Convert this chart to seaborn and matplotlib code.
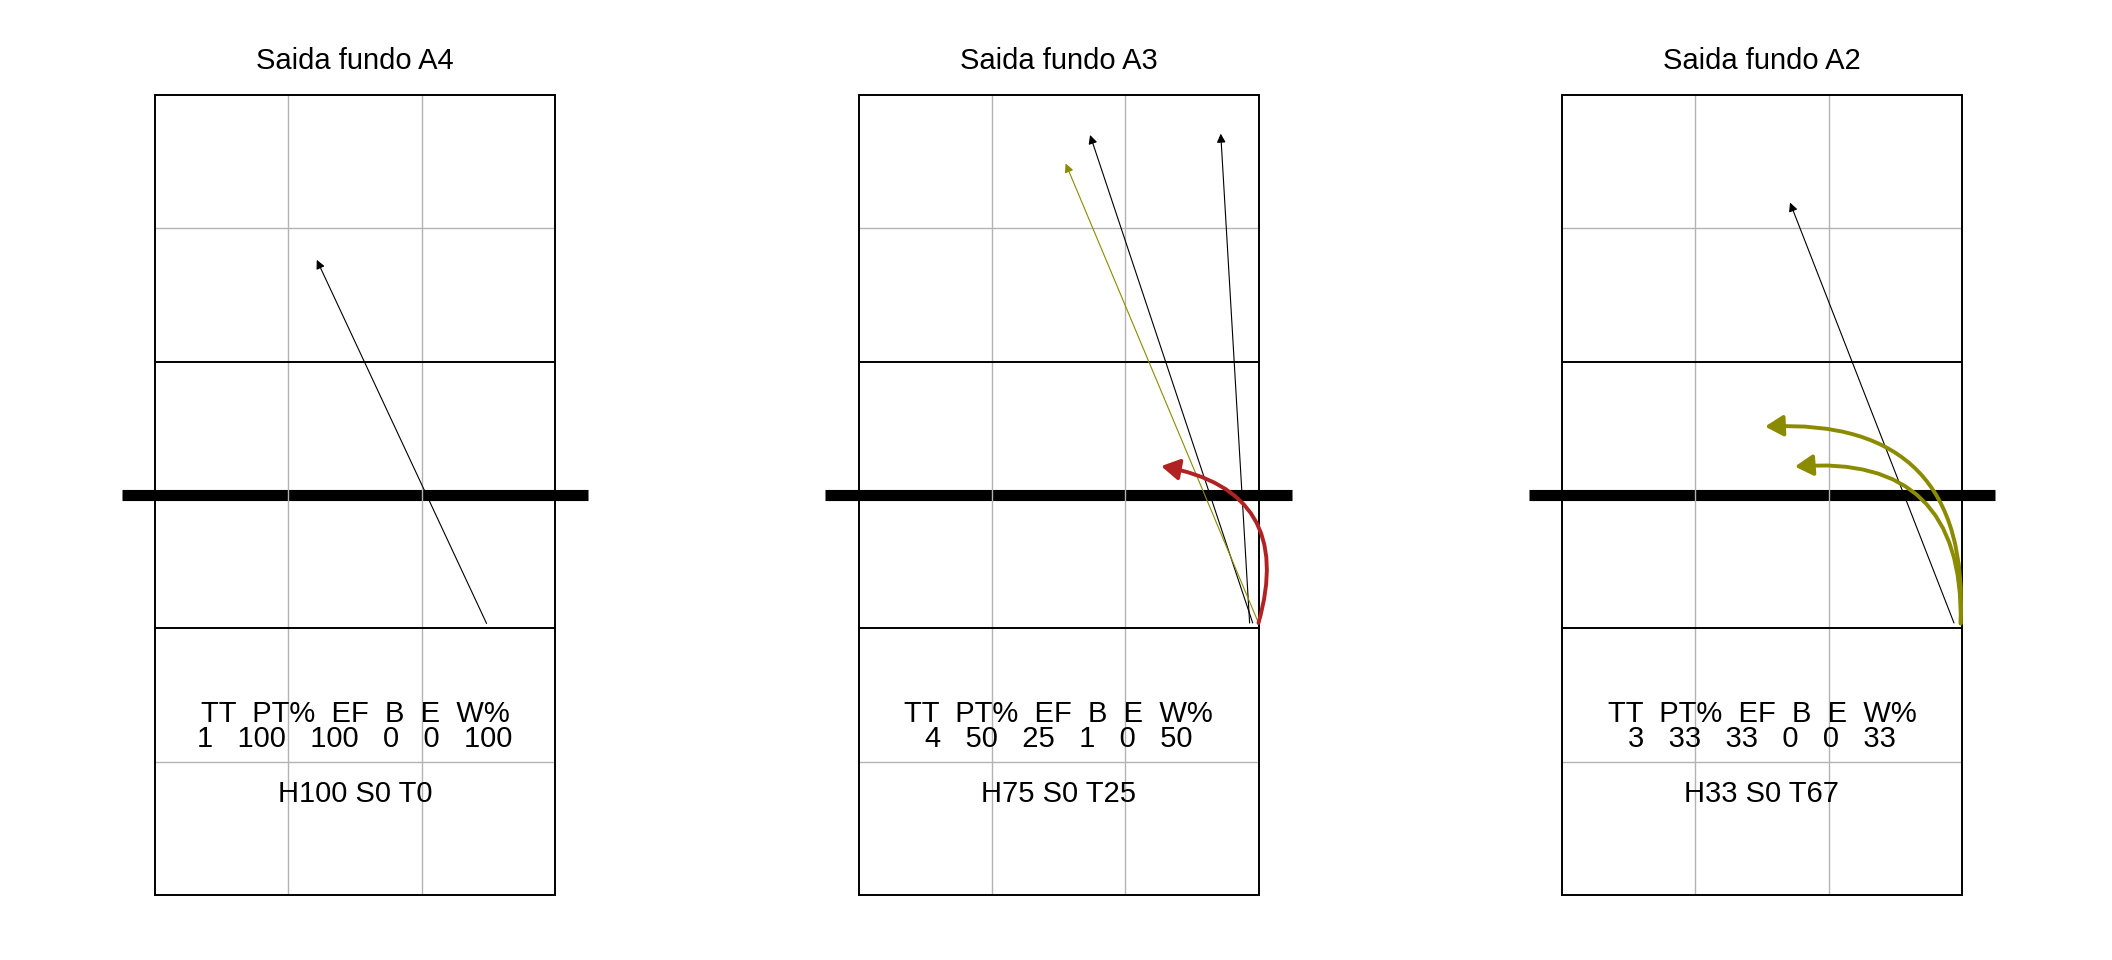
import matplotlib
matplotlib.use("Agg")
import matplotlib.pyplot as plt
from matplotlib.patches import FancyArrowPatch
import seaborn as sns

# ---------------- data ----------------
titles = ["Saida fundo A4", "Saida fundo A3", "Saida fundo A2"]
TT = [1, 4, 3]
PT = [100, 50, 33]
EF = [100, 25, 33]
B = [0, 1, 0]
E = [0, 0, 0]
W = [100, 50, 33]
H = [100, 75, 33]
S = [0, 0, 0]
T = [0, 25, 67]

# straight attack arrows (court metres: x 0..9, y 0..18, net at 9)
arrow_panel = [0, 1, 1, 1, 2]
arrow_x0 = [7.46, 8.87, 8.80, 9.00, 8.82]
arrow_y0 = [6.11, 6.12, 6.12, 6.12, 6.12]
arrow_x1 = [3.64, 5.21, 8.15, 4.66, 5.13]
arrow_y1 = [14.29, 17.10, 17.13, 16.46, 15.58]
arrow_kind = ["black", "black", "black", "olive", "black"]

# curved arrows
curve_panel = [1, 2, 2]
curve_x0 = [9.00, 8.97, 8.97]
curve_y0 = [6.12, 6.11, 6.11]
curve_x1 = [6.81, 4.57, 5.24]
curve_y1 = [9.65, 10.54, 9.64]
curve_kind = ["red", "olive", "olive"]

# ---------------- style ----------------
sns.set_theme(style="white")
plt.rcParams["font.family"] = ["Liberation Sans", "DejaVu Sans"]
plt.rcParams["text.color"] = "black"
colors = {"black": "black", "olive": "#8B8B00", "red": "#B22222"}
grey = "#B3B3B3"
FS = 21

W_PX, H_PX = 2112, 960
fig = plt.figure(figsize=(W_PX / 100, H_PX / 100), dpi=100)
fig.patch.set_facecolor("white")

ppm = 400 / 9.0          # pixels per metre
court_left = [155, 858.5, 1562]
court_bottom_px = 895     # from top
xlim = (-1.5, 10.5)
ylim = (-0.5, 18.5)

axes = []
for i in range(3):
    left_px = court_left[i] + xlim[0] * ppm
    width_px = (xlim[1] - xlim[0]) * ppm
    bottom_px_from_top = court_bottom_px - ylim[0] * ppm
    height_px = (ylim[1] - ylim[0]) * ppm
    ax = fig.add_axes([left_px / W_PX, (H_PX - bottom_px_from_top) / H_PX,
                       width_px / W_PX, height_px / H_PX])
    ax.set_xlim(*xlim)
    ax.set_ylim(*ylim)
    ax.set_axis_off()
    axes.append(ax)

    # net
    ax.plot([-0.75, 9.75], [9, 9], color="black", lw=8, solid_capstyle="butt", zorder=1)
    # grey grid
    for gx in (3, 6):
        ax.plot([gx, gx], [0, 18], color=grey, lw=1.0, zorder=2)
    for gy in (3, 15):
        ax.plot([0, 9], [gy, gy], color=grey, lw=1.0, zorder=2)
    # black lines
    for gy in (6, 12):
        ax.plot([0, 9], [gy, gy], color="black", lw=1.4, zorder=3)
    ax.plot([0, 9, 9, 0, 0], [0, 0, 18, 18, 0], color="black", lw=1.4, zorder=3,
            solid_joinstyle="miter")

    # texts
    ax.text(4.5, 18.58, titles[i], ha="center", va="baseline", fontsize=FS,
            color="black", clip_on=False)
    ax.text(4.5, 3.90, "TT  PT%  EF  B  E  W%", ha="center", va="baseline",
            fontsize=FS, color="black")
    nums = "   ".join(str(v) for v in (TT[i], PT[i], EF[i], B[i], E[i], W[i]))
    ax.text(4.5, 3.32, nums, ha="center", va="baseline", fontsize=FS, color="black")
    ax.text(4.5, 2.10, f"H{H[i]} S{S[i]} T{T[i]}", ha="center", va="baseline",
            fontsize=FS, color="black")

for p, x0, y0, x1, y1, k in zip(arrow_panel, arrow_x0, arrow_y0, arrow_x1, arrow_y1, arrow_kind):
    a = FancyArrowPatch((x0, y0), (x1, y1),
                        arrowstyle="-|>,head_length=0.4,head_width=0.2",
                        mutation_scale=13, lw=0.8, color=colors[k],
                        shrinkA=0, shrinkB=0, zorder=5)
    axes[p].add_patch(a)

for p, x0, y0, x1, y1, k in zip(curve_panel, curve_x0, curve_y0, curve_x1, curve_y1, curve_kind):
    a = FancyArrowPatch((x0, y0), (x1, y1),
                        connectionstyle="arc3,rad=0.55",
                        arrowstyle="-|>,head_length=0.6,head_width=0.35",
                        mutation_scale=18, lw=2.8, color=colors[k],
                        shrinkA=0, shrinkB=0, zorder=6)
    axes[p].add_patch(a)

fig.savefig("out.png", dpi=100, facecolor="white")
